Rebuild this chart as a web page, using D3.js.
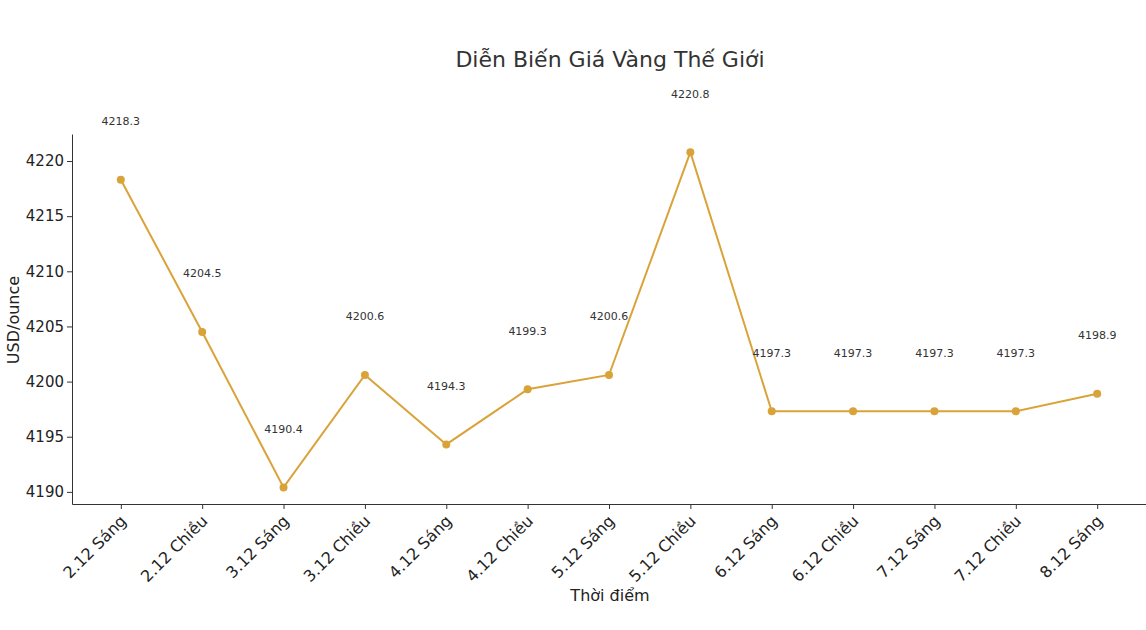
<!DOCTYPE html>
<html><head><meta charset="utf-8">
<script src="https://cdn.jsdelivr.net/npm/d3@7"></script>
<style>body{margin:0;background:#fff}text{font-family:"DejaVu Sans",sans-serif}</style>
</head><body><svg id="chart" width="1146" height="630"></svg>
<script>
// data
var times = ["2.12 Sáng","2.12 Chiều","3.12 Sáng","3.12 Chiều","4.12 Sáng","4.12 Chiều","5.12 Sáng","5.12 Chiều","6.12 Sáng","6.12 Chiều","7.12 Sáng","7.12 Chiều","8.12 Sáng"]
var prices = [4218.3,4204.5,4190.4,4200.6,4194.3,4199.3,4200.6,4220.8,4197.3,4197.3,4197.3,4197.3,4198.9]
var yTicks = [4190,4195,4200,4205,4210,4215,4220]

var margin = {top: 134, right: 0, bottom: 126, left: 72},
    width = 1146 - margin.left - margin.right,
    height = 630 - margin.top - margin.bottom

var svg = d3.select("#chart").append("g")
  .attr("transform", "translate(" + margin.left + "," + margin.top + ")")

var x = d3.scalePoint().domain(times).range([0, width]).padding(0.6)
var y = d3.scaleLinear().domain([4188.9, 4222.45]).range([height, 0])

var xAxis = svg.append("g").attr("transform", "translate(0," + height + ")")
  .call(d3.axisBottom(x).tickSize(5).tickSizeOuter(0))
xAxis.selectAll("text")
  .style("font-size", "16px").attr("fill", "#222")
  .style("text-anchor", "end")
  .attr("x", 0).attr("y", 0)
  .attr("dx", "0").attr("dy", "0.35em")
  .attr("transform", "translate(2,14) rotate(-45)")

var yAxis = svg.append("g")
  .call(d3.axisLeft(y).tickValues(yTicks).tickSize(5).tickSizeOuter(0).tickFormat(d3.format("d")))
yAxis.selectAll("text").style("font-size", "15px").attr("fill", "#222")
svg.selectAll(".domain, .tick line").attr("stroke", "#333")

var line = d3.line().x(function(d, i) { return x(times[i]) }).y(function(d) { return y(d) })
svg.append("path").datum(prices)
  .attr("d", line).attr("fill", "none").attr("stroke", "#DAA33A").attr("stroke-width", 2)

svg.selectAll(".dot").data(prices).enter().append("circle")
  .attr("cx", function(d, i) { return x(times[i]) })
  .attr("cy", function(d) { return y(d) })
  .attr("r", 4).attr("fill", "#DAA33A")

// value labels sit ~5 units above each point
svg.selectAll(".lbl").data(prices).enter().append("text")
  .attr("x", function(d, i) { return x(times[i]) })
  .attr("y", function(d) { return y(d + 5.3) })
  .attr("dy", "0.35em")
  .attr("text-anchor", "middle")
  .style("font-size", "11px").attr("fill", "#333")
  .text(function(d) { return d.toFixed(1) })

d3.select("#chart").append("text").attr("x", 610).attr("y", 67)
  .attr("text-anchor", "middle").style("font-size", "22px").attr("fill", "#333")
  .text("Diễn Biến Giá Vàng Thế Giới")
d3.select("#chart").append("text").attr("x", 610).attr("y", 601)
  .attr("text-anchor", "middle").style("font-size", "16px").attr("fill", "#222")
  .text("Thời điểm")
d3.select("#chart").append("text")
  .attr("transform", "translate(19,320) rotate(-90)")
  .attr("text-anchor", "middle").style("font-size", "16px").attr("fill", "#222")
  .text("USD/ounce")
</script></body></html>
